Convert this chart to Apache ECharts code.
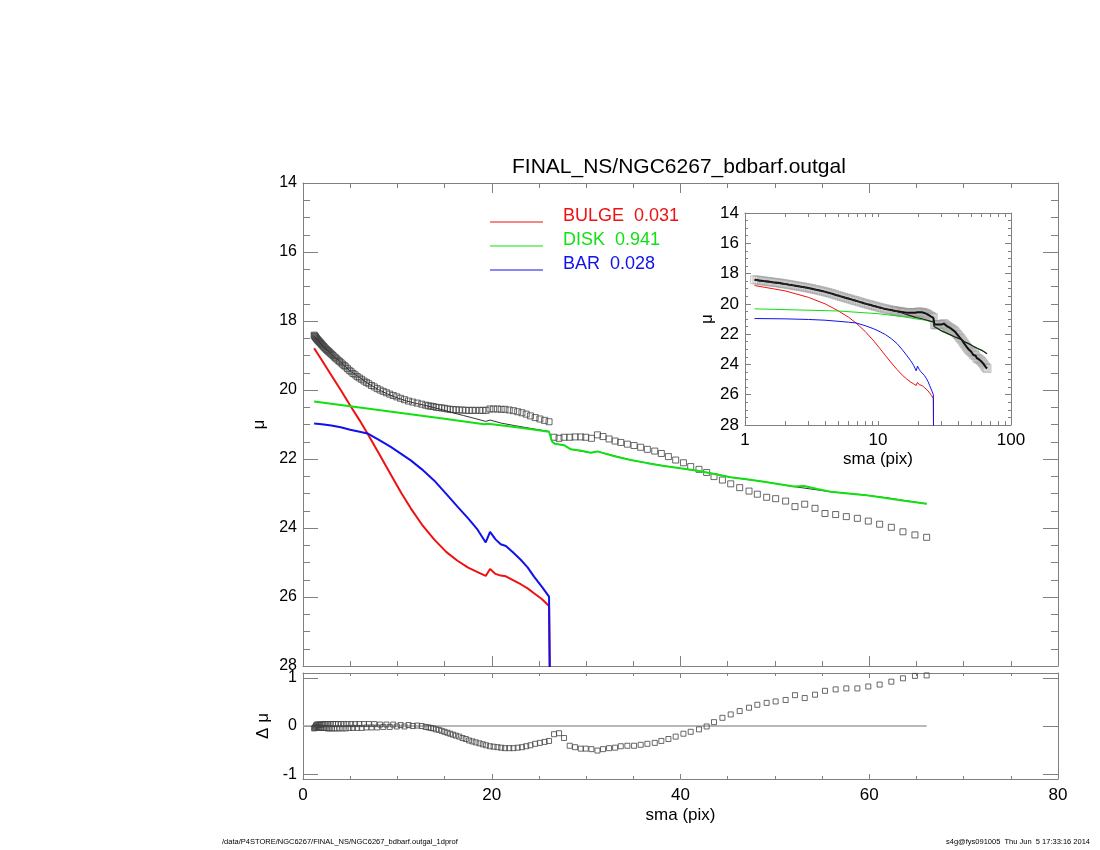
<!DOCTYPE html>
<html>
<head>
<meta charset="utf-8">
<script src="https://cdn.jsdelivr.net/npm/echarts@6/dist/echarts.min.js"></script>
<style>
html,body{margin:0;padding:0;background:#fff;}
#chart{width:1100px;height:850px;}
</style>
</head>
<body>
<div id="chart"></div>
<script>
// ---------- observed profile (sma in pix, mu in mag/arcsec^2, residual) ----------
const sma = [
 1.18,1.23,1.28,1.33,1.38,1.44,1.5,1.56,1.62,1.69,
 1.76,1.83,1.9,1.98,2.06,2.14,2.23,2.32,2.41,2.51,
 2.61,2.71,2.82,2.94,3.06,3.18,3.31,3.44,3.58,3.72,
 3.87,4.03,4.19,4.36,4.53,4.71,4.9,5.1,5.3,5.52,
 5.74,5.97,6.21,6.46,6.72,6.98,7.26,7.55,7.86,8.17,
 8.5,8.84,9.19,9.56,9.94,10.34,10.75,11.18,11.63,12.1,
 12.58,
 13.0,13.3,13.55,13.8,14.1,14.4,14.7,15.0,15.3,15.6,
 15.9,16.2,16.55,16.9,17.25,17.6,17.95,18.3,18.7,19.05,
 19.4,19.8,20.2,20.6,21.0,21.4,21.85,22.3,22.75,23.2,
 23.65,24.1,24.6,25.1,25.6,26.07,
 26.6,27.13,27.66,28.26,28.83,29.43,29.96,30.56,31.2,31.79,
 32.43,33.07,33.67,34.37,35.08,35.78,36.49,37.27,37.97,38.72,
 39.49,40.31,41.08,41.96,42.77,43.55,44.44,45.32,46.27,47.26,
 48.14,49.13,50.08,51.14,52.13,53.16,54.25,55.31,56.44,57.57,
 58.74,59.9,61.1,62.34,63.57,64.84,66.08
];
const mu = [
 18.41,18.43,18.45,18.47,18.49,18.51,18.53,18.55,18.57,18.59,
 18.61,18.63,18.65,18.68,18.7,18.73,18.75,18.78,18.81,18.83,
 18.86,18.88,18.91,18.94,18.97,19.0,19.04,19.07,19.1,19.14,
 19.17,19.21,19.25,19.29,19.33,19.38,19.43,19.47,19.52,19.56,
 19.61,19.65,19.69,19.74,19.78,19.82,19.87,19.91,19.96,20.0,
 20.04,20.08,20.12,20.16,20.2,20.24,20.28,20.32,20.35,20.38,
 20.41,
 20.44,20.46,20.47,20.48,20.5,20.51,20.52,20.53,20.55,20.56,
 20.57,20.57,20.58,20.58,20.59,20.59,20.59,20.59,20.59,20.59,
 20.59,20.55,20.55,20.55,20.56,20.56,20.58,20.6,20.63,20.66,
 20.7,20.75,20.8,20.84,20.88,20.92,
 21.37,21.4,21.37,21.37,21.36,21.36,21.37,21.4,21.3,21.35,
 21.42,21.48,21.52,21.57,21.61,21.66,21.72,21.77,21.84,21.93,
 22.03,22.11,22.22,22.3,22.39,22.51,22.61,22.72,22.83,22.93,
 23.02,23.11,23.15,23.22,23.38,23.31,23.43,23.58,23.61,23.67,
 23.72,23.8,23.89,23.98,24.11,24.2,24.27
];
const dmu = [
 -0.05,-0.04,-0.03,-0.01,0.01,0.03,-0.02,0.03,-0.03,0.03,
 -0.04,0.03,-0.04,0.03,-0.04,0.04,-0.04,0.04,-0.04,0.04,
 -0.05,0.04,-0.05,0.04,-0.05,0.04,-0.05,0.04,-0.05,0.04,
 -0.05,0.04,-0.05,0.04,-0.05,0.04,-0.04,0.04,-0.04,0.04,
 -0.04,0.04,-0.04,0.04,-0.03,0.04,-0.03,0.04,-0.03,0.03,
 -0.02,0.03,-0.02,0.03,-0.01,0.02,-0.01,0.02,0.0,0.01,
 0.0,
 -0.02,-0.03,-0.04,-0.05,-0.07,-0.08,-0.1,-0.12,-0.14,-0.16,
 -0.18,-0.2,-0.22,-0.25,-0.27,-0.3,-0.32,-0.34,-0.36,-0.38,
 -0.4,-0.42,-0.43,-0.44,-0.45,-0.46,-0.46,-0.46,-0.45,-0.44,
 -0.42,-0.4,-0.37,-0.35,-0.33,-0.31,
 -0.17,-0.15,-0.25,-0.41,-0.44,-0.47,-0.47,-0.48,-0.51,-0.48,
 -0.46,-0.45,-0.42,-0.41,-0.41,-0.39,-0.37,-0.35,-0.31,-0.27,
 -0.22,-0.16,-0.12,-0.07,-0.01,0.08,0.17,0.24,0.31,0.38,
 0.44,0.48,0.51,0.54,0.64,0.58,0.65,0.73,0.76,0.78,
 0.78,0.82,0.86,0.92,0.99,1.04,1.05
];

// ---------- model components ----------
const compSma = [1.18,2.0,3.0,4.0,5.0,6.0,6.83,8.0,9.3,10.4,11.42,12.6,13.89,15.2,16.37,17.5,18.5,19.36,19.82,20.4,20.95,21.5,22.3,23.07,23.8,24.48,25.3,26.07,26.2];
const bulgeMu = [18.79,19.14,19.57,20.0,20.45,20.88,21.26,21.82,22.45,22.98,23.43,23.9,24.33,24.7,24.95,25.15,25.28,25.39,25.19,25.33,25.38,25.4,25.52,25.63,25.75,25.89,26.06,26.26,29.5];
const barMu   = [20.97,20.99,21.03,21.08,21.15,21.21,21.26,21.44,21.65,21.85,22.04,22.3,22.62,23.02,23.38,23.72,24.05,24.42,24.11,24.33,24.47,24.52,24.72,24.92,25.14,25.41,25.7,25.99,29.5];

const diskSma = [1.18,5,10,15,19.2,19.6,22,24,26.07,26.4,26.7,27.66,28.37,29.5,30.49,31.2,33,34.72,36.5,38.25,40,41.79,43.5,45.32,47,48.85,50.5,52.0,53.1,54.5,55.9,57.5,59.4,61.2,63.5,66.08];
const diskMu  = [20.33,20.47,20.65,20.83,20.99,20.98,21.06,21.13,21.21,21.5,21.56,21.6,21.72,21.76,21.82,21.78,21.92,22.03,22.12,22.2,22.27,22.34,22.43,22.53,22.59,22.66,22.73,22.8,22.78,22.87,22.95,22.99,23.04,23.11,23.2,23.3];

const modelSma = [1.18,2,3,4,5,6,7,8,9,10,11,12,13,14,15,16,17,18,19.36,19.82,21,22.4,24.5,26.07,26.4,26.7,27.66,28.37,30.49,31.2,34.72,38.25,41.79,45.32,48.85,52,55.9,59.4,62,66.08];
const modelMu  = [18.43,18.7,18.96,19.2,19.45,19.64,19.83,19.99,20.12,20.23,20.32,20.39,20.45,20.52,20.59,20.67,20.74,20.81,20.91,20.87,20.96,21.03,21.13,21.2,21.5,21.56,21.6,21.72,21.82,21.78,22.03,22.2,22.34,22.53,22.66,22.8,22.95,23.04,23.13,23.3];

const zeroSma = [0, 66.08];
const zeroVal = [0, 0];

// ---------- labels ----------
const titleText = 'FINAL_NS/NGC6267_bdbarf.outgal';
const legendNames = ['BULGE  0.031', 'DISK  0.941', 'BAR  0.028'];
const compColors = ['#ee1111', '#11e011', '#1111ee'];
const footLeft = '/data/P4STORE/NGC6267/FINAL_NS/NGC6267_bdbarf.outgal_1dprof';
const footRight = 's4g@fys091005  Thu Jun  5 17:33:16 2014';
const insetMinorTicks = [1,2,3,4,5,6,7,8,9,10,20,30,40,50,60,70,80,90,100];

const zip = (xs, ys) => xs.map((x, i) => [x, ys[i]]);
const FONT = 'Liberation Sans, Arial, Helvetica, sans-serif';
const AX = '#808080';

function frameAxis(extra) {
  return Object.assign({
    splitLine: {show: false},
    axisLine: {show: true, onZero: false, lineStyle: {color: AX, width: 1}},
    axisTick: {show: true, inside: true, lineStyle: {color: AX}},
    axisLabel: {show: false},
    minorTick: {show: false},
  }, extra);
}

const chart = echarts.init(document.getElementById('chart'), null, {renderer: 'canvas'});

const option = {
  animation: false,
  backgroundColor: '#fff',
  textStyle: {fontFamily: FONT},
  grid: [
    {left: 303, top: 183, width: 755, height: 483, outerBoundsMode: 'none'},
    {left: 303, top: 673, width: 755, height: 106, outerBoundsMode: 'none'},
    {left: 745, top: 213, width: 266, height: 212, outerBoundsMode: 'none'}
  ],
  xAxis: [
    frameAxis({gridIndex: 0, type: 'value', min: 0, max: 80, interval: 20, position: 'bottom',
      axisTick: {show: true, inside: true, length: 10, lineStyle: {color: AX}},
      minorTick: {show: true, splitNumber: 4, length: 5, lineStyle: {color: AX}}}),
    frameAxis({gridIndex: 0, type: 'value', min: 0, max: 80, interval: 20, position: 'top',
      axisTick: {show: true, inside: true, length: 10, lineStyle: {color: AX}},
      minorTick: {show: true, splitNumber: 4, length: 5, lineStyle: {color: AX}}}),
    frameAxis({gridIndex: 1, type: 'value', min: 0, max: 80, interval: 20, position: 'bottom',
      axisTick: {show: true, inside: true, length: 5, lineStyle: {color: AX}},
      minorTick: {show: true, splitNumber: 4, length: 3, lineStyle: {color: AX}},
      axisLabel: {show: true, fontSize: 17, color: '#000', margin: 8, fontFamily: FONT},
      name: 'sma (pix)', nameLocation: 'middle', nameGap: 28,
      nameTextStyle: {fontSize: 17, color: '#000', fontFamily: FONT}}),
    frameAxis({gridIndex: 1, type: 'value', min: 0, max: 80, interval: 20, position: 'top',
      axisTick: {show: true, inside: true, length: 5, lineStyle: {color: AX}},
      minorTick: {show: true, splitNumber: 4, length: 3, lineStyle: {color: AX}}}),
    frameAxis({gridIndex: 2, type: 'log', logBase: 10, min: 1, max: 100, position: 'bottom',
      axisTick: {show: true, inside: true, length: 4, customValues: insetMinorTicks, lineStyle: {color: AX}},
      axisLabel: {show: true, fontSize: 17, color: '#000', margin: 7, fontFamily: FONT, customValues: [1, 10, 100]},
      name: 'sma (pix)', nameLocation: 'middle', nameGap: 26,
      nameTextStyle: {fontSize: 17, color: '#000', fontFamily: FONT}}),
    frameAxis({gridIndex: 2, type: 'log', logBase: 10, min: 1, max: 100, position: 'top',
      axisTick: {show: true, inside: true, length: 4, customValues: insetMinorTicks, lineStyle: {color: AX}}})
  ],
  yAxis: [
    frameAxis({gridIndex: 0, type: 'value', min: 14, max: 28, interval: 2, inverse: true, position: 'left',
      axisTick: {show: true, inside: true, length: 15, lineStyle: {color: AX}},
      minorTick: {show: true, splitNumber: 4, length: 7, lineStyle: {color: AX}},
      axisLabel: {show: true, fontSize: 16, color: '#000', margin: 6, fontFamily: FONT},
      name: 'μ', nameLocation: 'middle', nameGap: 27,
      nameTextStyle: {fontSize: 17, color: '#000', fontFamily: FONT}}),
    frameAxis({gridIndex: 0, type: 'value', min: 14, max: 28, interval: 2, inverse: true, position: 'right',
      axisTick: {show: true, inside: true, length: 15, lineStyle: {color: AX}},
      minorTick: {show: true, splitNumber: 4, length: 7, lineStyle: {color: AX}}}),
    frameAxis({gridIndex: 1, type: 'value', min: -1.1, max: 1.1, position: 'left',
      axisTick: {show: true, inside: true, length: 15, customValues: [-1, 0, 1], lineStyle: {color: AX}},
      axisLabel: {show: true, fontSize: 16, color: '#000', margin: 6, fontFamily: FONT, customValues: [-1, 0, 1]},
      name: 'Δ μ', nameLocation: 'middle', nameGap: 28,
      nameTextStyle: {fontSize: 17, color: '#000', fontFamily: FONT}}),
    frameAxis({gridIndex: 1, type: 'value', min: -1.1, max: 1.1, position: 'right',
      axisTick: {show: true, inside: true, length: 15, customValues: [-1, 0, 1], lineStyle: {color: AX}}}),
    frameAxis({gridIndex: 2, type: 'value', min: 14, max: 28, interval: 2, inverse: true, position: 'left',
      axisTick: {show: true, inside: true, length: 6, lineStyle: {color: AX}},
      minorTick: {show: true, splitNumber: 4, length: 3, lineStyle: {color: AX}},
      axisLabel: {show: true, fontSize: 17, color: '#000', margin: 6, fontFamily: FONT},
      name: 'μ', nameLocation: 'middle', nameGap: 29,
      nameTextStyle: {fontSize: 17, color: '#000', fontFamily: FONT}}),
    frameAxis({gridIndex: 2, type: 'value', min: 14, max: 28, interval: 2, inverse: true, position: 'right',
      axisTick: {show: true, inside: true, length: 6, lineStyle: {color: AX}},
      minorTick: {show: true, splitNumber: 4, length: 3, lineStyle: {color: AX}}})
  ],
  legend: {
    left: 490, top: 207, orient: 'vertical', padding: 0,
    icon: 'rect',
    itemWidth: 53, itemHeight: 1.2, itemGap: -6,
    selectedMode: false,
    formatter: '{t|{name}}',
    data: legendNames.map((n, i) => ({name: n, textStyle: {color: compColors[i]}})),
    textStyle: {fontSize: 18, lineHeight: 18, fontFamily: FONT,
      rich: {t: {fontSize: 18, lineHeight: 18, fontFamily: FONT, padding: [0, 0, 12, 15]}}}
  },
  graphic: [
    {type: 'text', left: 512, top: 157, style: {text: titleText, fontSize: 21, fontFamily: FONT, fill: '#000'}},
    {type: 'text', left: 222, top: 838, style: {text: footLeft, fontSize: 7.5, fontFamily: FONT, fill: '#000'}},
    {type: 'text', right: 10, top: 838, style: {text: footRight, fontSize: 7.5, fontFamily: FONT, fill: '#000'}}
  ],
  series: [
    // ---- main panel ----
    {type: 'scatter', name: 'data', xAxisIndex: 0, yAxisIndex: 0, data: zip(sma, mu),
     symbol: 'rect', symbolSize: 6, z: 2,
     itemStyle: {color: 'rgba(255,255,255,0)', borderColor: '#444', borderWidth: 1}},
    {type: 'line', name: 'model', xAxisIndex: 0, yAxisIndex: 0, data: zip(modelSma, modelMu),
     symbol: 'none', lineStyle: {color: '#333', width: 1}, z: 3},
    {type: 'line', name: legendNames[0], xAxisIndex: 0, yAxisIndex: 0, data: zip(compSma, bulgeMu),
     symbol: 'none', lineStyle: {color: compColors[0], width: 2}, itemStyle: {color: compColors[0]}, z: 4},
    {type: 'line', name: legendNames[1], xAxisIndex: 0, yAxisIndex: 0, data: zip(diskSma, diskMu),
     symbol: 'none', lineStyle: {color: compColors[1], width: 2}, itemStyle: {color: compColors[1]}, z: 4},
    {type: 'line', name: legendNames[2], xAxisIndex: 0, yAxisIndex: 0, data: zip(compSma, barMu),
     symbol: 'none', lineStyle: {color: compColors[2], width: 2}, itemStyle: {color: compColors[2]}, z: 5},
    // ---- residual panel ----
    {type: 'line', name: 'zero', xAxisIndex: 2, yAxisIndex: 2, data: zip(zeroSma, zeroVal),
     symbol: 'none', lineStyle: {color: '#a0a0a0', width: 1.5}, z: 2},
    {type: 'scatter', name: 'resid', xAxisIndex: 2, yAxisIndex: 2, data: zip(sma, dmu),
     symbol: 'rect', symbolSize: 5, z: 3,
     itemStyle: {color: 'rgba(255,255,255,0)', borderColor: '#444', borderWidth: 1}},
    // ---- inset (log sma) ----
    {type: 'scatter', name: 'inset-data', xAxisIndex: 4, yAxisIndex: 4, data: zip(sma, mu),
     symbol: 'rect', symbolSize: 8, z: 2,
     itemStyle: {color: 'rgba(200,200,200,0.25)', borderColor: 'rgba(150,150,150,0.6)', borderWidth: 1}},
    {type: 'line', name: 'inset-bulge', xAxisIndex: 4, yAxisIndex: 4, data: zip(compSma, bulgeMu),
     symbol: 'none', lineStyle: {color: compColors[0], width: 1}, z: 3},
    {type: 'line', name: 'inset-disk', xAxisIndex: 4, yAxisIndex: 4, data: zip(diskSma, diskMu),
     symbol: 'none', lineStyle: {color: compColors[1], width: 1}, z: 3},
    {type: 'line', name: 'inset-bar', xAxisIndex: 4, yAxisIndex: 4, data: zip(compSma, barMu),
     symbol: 'none', lineStyle: {color: compColors[2], width: 1}, z: 3},
    {type: 'line', name: 'inset-line', xAxisIndex: 4, yAxisIndex: 4, data: zip(sma, mu),
     symbol: 'none', lineStyle: {color: '#111', width: 2}, z: 4},
    {type: 'line', name: 'inset-model', xAxisIndex: 4, yAxisIndex: 4, data: zip(modelSma, modelMu),
     symbol: 'none', lineStyle: {color: '#222', width: 1.2}, z: 5}
  ]
};
chart.setOption(option);
</script>
</body>
</html>
